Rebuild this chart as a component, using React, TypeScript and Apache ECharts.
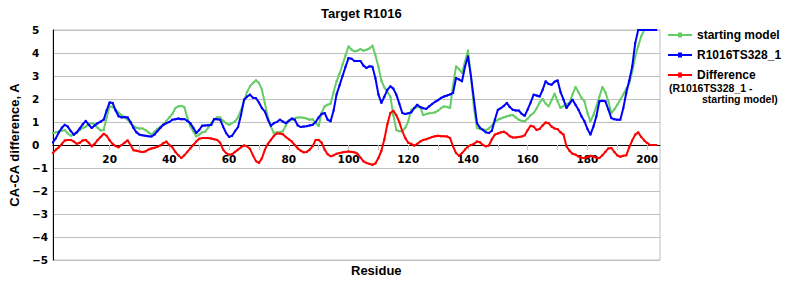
import React, { useEffect, useRef } from "react";
import * as echarts from "echarts";

const FIRST_RESIDUE = 1;
const startingModel = [
  0.52, 0.55, 0.58, 0.62, 0.65, 0.5, 0.4, 0.45, 0.55, 0.65,
  0.74, 0.8, 0.9, 0.95, 0.9, 0.75, 0.63, 0.65, 1.2, 1.68,
  1.65, 1.53, 1.4, 1.3, 1.2, 1.1, 0.95, 0.82, 0.75, 0.72,
  0.72, 0.65, 0.55, 0.45, 0.58, 0.7, 0.78, 0.9, 1.05, 1.2,
  1.35, 1.6, 1.68, 1.7, 1.65, 1.2, 0.82, 0.6, 0.37, 0.45,
  0.55, 0.58, 0.75, 0.95, 1.1, 1.2, 1.2, 1.05, 0.95, 0.88,
  0.95, 1.03, 1.2, 1.53, 1.9, 2.3, 2.55, 2.7, 2.81, 2.7,
  2.4, 1.8, 1.2, 0.8, 0.52, 0.55, 0.55, 0.6, 0.85, 1.06,
  1.1, 1.15, 1.2, 1.2, 1.18, 1.15, 1.1, 1.12, 0.95, 0.82,
  1.4, 1.68, 1.75, 1.8, 2.3, 2.77, 3.1, 3.5, 3.9, 4.29,
  4.15, 4.07, 4.1, 4.17, 4.1, 4.14, 4.2, 4.32, 3.9, 3.4,
  2.8, 2.5, 2.3, 2.11, 1.3, 0.65, 0.6, 0.6, 0.75, 1.03,
  1.53, 1.61, 1.65, 1.65, 1.3, 1.35, 1.38, 1.39, 1.42, 1.5,
  1.6, 1.68, 1.65, 1.61, 2.6, 3.42, 3.3, 3.13, 3.63, 4.11,
  2.98, 1.6, 0.74, 0.7, 0.68, 0.65, 0.72, 0.85, 1.0, 1.1,
  1.15, 1.2, 1.25, 1.28, 1.3, 1.2, 1.1, 1.05, 1.03, 1.15,
  1.3, 1.39, 1.6, 1.85, 2.0, 1.8, 1.68, 1.95, 2.23, 1.9,
  1.61, 1.7, 1.78, 1.83, 2.2, 2.52, 2.3, 2.05, 1.9, 1.4,
  1.03, 1.3, 1.68, 2.1, 2.52, 2.3, 1.9, 1.39, 1.55, 1.75,
  1.97, 2.2, 2.45, 2.69, 3.2, 3.85, 4.3, 4.72, 5, 5,
  5, 5, 5,
];
const refinedModel = [
  0.11, 0.3, 0.55, 0.75, 0.88, 0.8, 0.6, 0.45, 0.55, 0.72,
  0.9, 1.05, 0.88, 0.74, 0.85, 0.95, 1.02, 1.1, 1.5, 1.85,
  1.83, 1.5, 1.25, 1.2, 1.22, 1.2, 1.0, 0.74, 0.55, 0.45,
  0.42, 0.4, 0.38, 0.37, 0.45, 0.6, 0.75, 0.88, 0.95, 1.0,
  1.1, 1.12, 1.15, 1.12, 1.13, 1.05, 0.95, 0.75, 0.52, 0.65,
  0.84, 0.85, 0.86, 0.87, 1.13, 1.12, 1.1, 0.8, 0.52, 0.35,
  0.4, 0.6, 0.78, 1.3, 1.97, 2.1, 2.19, 2.05, 2.04, 1.85,
  1.6, 1.45, 1.1, 0.84, 0.95, 1.0, 1.1, 1.02, 0.95, 1.05,
  1.15, 1.1, 0.85, 0.78, 0.8, 0.82, 0.85, 0.88, 1.0, 1.2,
  1.35, 1.39, 1.1, 1.03, 1.5, 2.2, 2.6, 3.0, 3.4, 3.78,
  3.75, 3.65, 3.65, 3.65, 3.45, 3.35, 3.42, 3.4, 2.9, 2.2,
  1.83, 2.1, 2.4, 2.55, 2.45, 2.19, 1.8, 1.39, 1.35, 1.38,
  1.42, 1.6, 1.75, 1.65, 1.6, 1.57, 1.68, 1.78, 1.88, 1.95,
  2.05, 2.11, 2.15, 2.2, 2.26, 2.91, 2.85, 2.77, 3.4, 3.85,
  2.98, 1.97, 0.96, 0.75, 0.65, 0.55, 0.52, 0.62, 1.1, 1.53,
  1.6, 1.7, 1.83, 1.65, 1.53, 1.5, 1.5, 1.35, 1.27, 1.55,
  1.85, 2.19, 2.15, 2.11, 2.4, 2.77, 2.65, 2.62, 2.75, 2.81,
  2.3, 1.97, 1.61, 1.8, 1.97, 1.75, 1.53, 1.25, 1.03, 0.7,
  0.45, 0.8, 1.25, 1.9, 1.92, 1.9, 1.55, 1.17, 1.12, 1.1,
  1.1, 1.6, 2.26, 2.8, 3.42, 4.43, 5, 5, 5, 5,
  5, 5, 5,
];
const difference = [
  -0.35, -0.2, -0.1, 0.05, 0.2, 0.22, 0.22, 0.15, 0.05, 0.1,
  0.2, 0.22, 0.1, -0.06, 0.05, 0.22, 0.35, 0.49, 0.4, 0.2,
  0.05, -0.05, -0.1, 0.0, 0.1, 0.2, 0.0, -0.23, -0.25, -0.28,
  -0.3, -0.28, -0.2, -0.15, -0.12, -0.08, -0.02, 0.08, 0.15, 0.0,
  -0.1, -0.3, -0.45, -0.57, -0.45, -0.3, -0.15, 0.0, 0.15, 0.27,
  0.3, 0.3, 0.3, 0.28, 0.25, 0.22, 0.1, -0.2, -0.35, -0.42,
  -0.4, -0.3, -0.2, -0.1, -0.02, -0.05, -0.17, -0.45, -0.7, -0.78,
  -0.57, -0.2, 0.05, 0.22, 0.4, 0.5, 0.5, 0.47, 0.35, 0.25,
  0.15, 0.0, -0.15, -0.25, -0.32, -0.3, -0.2, -0.05, 0.22, 0.22,
  0.1, -0.2, -0.4, -0.49, -0.45, -0.38, -0.35, -0.32, -0.3, -0.28,
  -0.3, -0.32, -0.38, -0.55, -0.71, -0.78, -0.82, -0.86, -0.8, -0.57,
  -0.25, 0.25, 0.9, 1.39, 1.49, 1.3, 1.0, 0.6, 0.3, 0.1,
  0.05, -0.03, 0.05, 0.15, 0.22, 0.25, 0.3, 0.35, 0.38, 0.4,
  0.38, 0.38, 0.37, 0.3, -0.06, -0.35, -0.47, -0.35, -0.2, -0.06,
  0.0, 0.05, 0.15, 0.12, 0.0, -0.06, -0.02, 0.25, 0.45, 0.5,
  0.55, 0.58, 0.5, 0.38, 0.33, 0.33, 0.35, 0.37, 0.42, 0.65,
  0.84, 0.8, 0.65, 0.7, 0.85, 0.98, 0.95, 0.8, 0.72, 0.69,
  0.55, 0.45, -0.06, -0.25, -0.38, -0.42, -0.5, -0.55, -0.57, -0.52,
  -0.47, -0.5, -0.55, -0.57, -0.45, -0.3, -0.15, -0.13, -0.3, -0.45,
  -0.51, -0.47, -0.45, -0.1, 0.2, 0.45, 0.55, 0.35, 0.2, 0.09,
  0.0, 0.0, 0.0,
];
const xLabelValues = [20, 40, 60, 80, 100, 120, 140, 160, 180, 200];
const xTickValues = [10, 20, 30, 40, 50, 60, 70, 80, 90, 100, 110, 120, 130, 140, 150, 160, 170, 180, 190, 200];
const seriesNames = ["starting model", "R1016TS328_1", "Difference"];
const seriesColors = ["#66cc66", "#0000ff", "#ff0000"];

const toPairs = (vals: number[]) => vals.map((v, i) => [FIRST_RESIDUE + i, v]);

export default function App() {
  const ref = useRef<HTMLDivElement>(null);
  useEffect(() => {
    if (!ref.current) return;
    const chart = echarts.init(ref.current, null, { renderer: "svg" });
    const sans = "'Liberation Sans', Arial, sans-serif";
    const tickFont = "'DejaVu Sans', Verdana, sans-serif";
    const datasets = [startingModel, refinedModel, difference];
    chart.setOption({
      animation: false,
      backgroundColor: "#ffffff",
      title: {
        text: "Target R1016",
        left: 321,
        top: 7,
        padding: 0,
        textStyle: { fontFamily: sans, fontWeight: "bold", fontSize: 13, color: "#000" },
      },
      legend: {
        orient: "vertical",
        left: 668,
        top: 29,
        itemWidth: 24,
        itemHeight: 10,
        itemGap: 8,
        padding: 0,
        icon: "path://M0,4 L24,4 L24,6 L0,6 Z M10,2.5 L14,2.5 L14,7.5 L10,7.5 Z",
        data: seriesNames,
        textStyle: { fontFamily: sans, fontWeight: "bold", fontSize: 12, color: "#000" },
      },
      graphic: [
        {
          type: "text",
          left: 669,
          top: 82,
          style: { text: "(R1016TS328_1 -", font: "bold 10.5px 'Liberation Sans', Arial", fill: "#000" },
        },
        {
          type: "text",
          left: 702,
          top: 93,
          style: { text: "starting model)", font: "bold 10.5px 'Liberation Sans', Arial", fill: "#000" },
        },
        {
          type: "text",
          left: 351,
          top: 264,
          style: { text: "Residue", font: "bold 13px 'Liberation Sans', Arial", fill: "#000" },
        },
      ],
      grid: {
        left: 50,
        right: 140,
        top: 30,
        bottom: 40,
        show: true,
        borderColor: "#c0c0c0",
        borderWidth: 1,
      },
      xAxis: {
        type: "value",
        position: "bottom",
        offset: -115,
        min: 1,
        max: 204.3,
        axisLine: { onZero: false, lineStyle: { color: "#000", width: 1 } },
        axisTick: { show: true, customValues: xTickValues, length: 5, lineStyle: { color: "#c0c0c0" } },
        axisLabel: {
          customValues: xLabelValues,
          margin: 8,
          fontFamily: tickFont,
          fontWeight: "bold",
          fontSize: 10.5,
          color: "#000",
        },
        splitLine: { show: false },
      },
      yAxis: {
        type: "value",
        min: -5,
        max: 5,
        interval: 1,
        name: "CA-CA difference, A",
        nameLocation: "middle",
        nameGap: 29,
        nameTextStyle: { fontFamily: sans, fontWeight: "bold", fontSize: 13, color: "#000" },
        axisLine: { show: true, onZero: false, lineStyle: { color: "#000", width: 1 } },
        axisTick: { show: false },
        axisLabel: {
          align: "left",
          margin: 21,
          fontFamily: tickFont,
          fontWeight: "bold",
          fontSize: 10.5,
          color: "#000",
          formatter: (v: number) => (v < 0 ? "\u2212" + Math.abs(v) : String(v)),
        },
        splitLine: { lineStyle: { color: "#c0c0c0", width: 1 } },
      },
      series: datasets.map((d, i) => ({
        name: seriesNames[i],
        type: "line",
        data: toPairs(d),
        color: seriesColors[i],
        symbol: "rect",
        symbolSize: 2,
        showSymbol: true,
        lineStyle: { width: 2, color: seriesColors[i] },
        itemStyle: { color: seriesColors[i] },
        clip: true,
        z: i === 1 ? 3 : 2,
      })),
    });
    return () => chart.dispose();
  }, []);
  return <div ref={ref} style={{ position: "fixed", left: 0, top: 0, width: 800, height: 300 }} />;
}
